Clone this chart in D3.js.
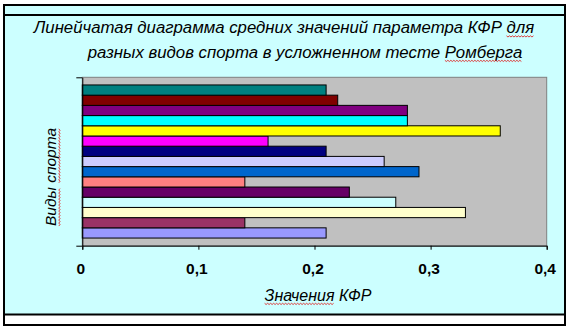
<!DOCTYPE html>
<html>
<head>
<meta charset="utf-8">
<script src="https://cdn.jsdelivr.net/npm/d3@7"></script>
<style>
  html, body { margin: 0; padding: 0; background: #ffffff; }
  svg { display: block; }
</style>
</head>
<body>
<svg id="chart" width="570" height="330"></svg>
<script>
// Sport groups (series 1 is drawn at the bottom, Excel-style)
const seriesNames = ["1", "2", "3", "4", "5", "6", "7", "8", "9", "10", "11", "12", "13", "14", "15"];
// Mean KFR value for each sport group
const seriesValues = [0.21, 0.14, 0.33, 0.27, 0.23, 0.14, 0.29, 0.26, 0.21, 0.16, 0.36, 0.28, 0.28, 0.22, 0.21];
const seriesColors = ["#9999FF", "#993366", "#FFFFCC", "#CCFFFF", "#660066", "#FF8080", "#0066CC", "#CCCCFF",
                      "#000080", "#FF00FF", "#FFFF00", "#00FFFF", "#800080", "#800000", "#008080"];
const xTicks = [0, 0.1, 0.2, 0.3, 0.4];
const xTickLabels = ["0", "0,1", "0,2", "0,3", "0,4"];

const FONT = "Liberation Sans, Arial, sans-serif";
const svg = d3.select("#chart");

// Outer frame
svg.append("rect").attr("x", 4).attr("y", 5).attr("width", 561).attr("height", 320)
  .attr("fill", "#ffffff").attr("stroke", "#000").attr("stroke-width", 2);
svg.append("rect").attr("x", 4).attr("y", 5).attr("width", 561).attr("height", 309.5)
  .attr("fill", "#CCFFFF").attr("stroke", "#000").attr("stroke-width", 2);
svg.append("line").attr("x1", 4).attr("x2", 565).attr("y1", 15).attr("y2", 15)
  .attr("stroke", "#000").attr("stroke-width", 2);

const plot = { left: 82.3, right: 546.7, top: 77.3, bottom: 245.7 };

const x = d3.scaleLinear().domain([0, 0.4]).range([plot.left, plot.right]);
const y = d3.scaleBand()
  .domain(seriesNames.slice().reverse())
  .range([plot.top, plot.bottom])
  .paddingInner(0)
  .paddingOuter(0.75);

// Plot area
svg.append("rect")
  .attr("x", plot.left).attr("y", plot.top)
  .attr("width", plot.right - plot.left).attr("height", plot.bottom - plot.top)
  .attr("fill", "#C0C0C0").attr("stroke", "#808080").attr("stroke-width", 1);

// Bars
svg.append("g").selectAll("rect")
  .data(seriesNames.map((n, i) => ({ name: n, value: seriesValues[i], color: seriesColors[i] })))
  .join("rect")
  .attr("x", x(0))
  .attr("y", d => y(d.name))
  .attr("width", d => x(d.value) - x(0))
  .attr("height", y.bandwidth())
  .attr("fill", d => d.color)
  .attr("stroke", "#000")
  .attr("stroke-width", 1);

// Value axis
const xAxis = d3.axisBottom(x)
  .tickValues(xTicks)
  .tickFormat((d, i) => xTickLabels[i])
  .tickSize(4)
  .tickPadding(13);
const gx = svg.append("g").attr("transform", `translate(0,${plot.bottom})`).call(xAxis);
gx.select(".domain").attr("stroke", "#000");
gx.selectAll(".tick line").attr("stroke", "#000");
gx.selectAll(".tick text")
  .attr("x", -2)
  .attr("font-family", FONT)
  .attr("font-size", 15.5).attr("font-weight", "bold").attr("fill", "#000");

// Category axis: single category, ticks at its bounds
const yAxisScale = d3.scaleLinear().domain([0, 1]).range([plot.bottom, plot.top]);
const gy = svg.append("g").attr("transform", `translate(${plot.left},0)`)
  .call(d3.axisLeft(yAxisScale).tickValues([0, 1]).tickFormat("").tickSize(6).tickSizeOuter(0));
gy.select(".domain").attr("stroke", "#000");
gy.selectAll(".tick line").attr("stroke", "#000");

// Red wavy spell-check line under characters [from, to] of a text element
function squiggle(parent, textNode, from, to, offset) {
  const a = textNode.getStartPositionOfChar(from);
  const b = textNode.getEndPositionOfChar(to);
  const yy = a.y + offset;
  const pts = [];
  let k = 0;
  for (let px = a.x; px <= b.x; px += 1.5, k++) pts.push([px, yy + (k % 2 ? 1 : -0.2)]);
  parent.append("path")
    .attr("d", d3.line()(pts))
    .attr("fill", "none").attr("stroke", "#E01010").attr("stroke-width", 0.8);
}

// Title
const titleG = svg.append("g");
const line1 = "Линейчатая диаграмма средних значений параметра КФР для";
const line2 = "разных видов спорта в усложненном тесте Ромберга";
const tl1 = titleG.append("text")
  .attr("x", 284).attr("y", 33)
  .attr("font-family", FONT).attr("font-size", 16.8).attr("font-style", "italic")
  .attr("fill", "#000").attr("text-anchor", "middle").text(line1);
const tl2 = titleG.append("text")
  .attr("x", 305).attr("y", 57.5)
  .attr("font-family", FONT).attr("font-size", 16.8).attr("font-style", "italic")
  .attr("fill", "#000").attr("text-anchor", "middle").text(line2);
squiggle(titleG, tl1.node(), line1.indexOf("для"), line1.length - 1, 3);
squiggle(titleG, tl2.node(), line2.indexOf("Ромберга"), line2.length - 1, 3);

// Value axis title
const xTitle = "Значения КФР";
const xtG = svg.append("g");
const xt = xtG.append("text")
  .attr("x", 318).attr("y", 300.5)
  .attr("font-family", FONT).attr("font-size", 16).attr("font-style", "italic")
  .attr("fill", "#000").attr("text-anchor", "middle").text(xTitle);
squiggle(xtG, xt.node(), 0, 7, 3);

// Category axis title
const yTitle = "Виды спорта";
const ytG = svg.append("g").attr("transform", "translate(56,177) rotate(-90)");
const yt = ytG.append("text")
  .attr("x", 0).attr("y", 0)
  .attr("font-family", FONT).attr("font-size", 15.5).attr("font-style", "italic")
  .attr("fill", "#000").attr("text-anchor", "middle").text(yTitle);
squiggle(ytG, yt.node(), 0, 3, 3);
squiggle(ytG, yt.node(), 5, yTitle.length - 1, 3);
</script>
</body>
</html>
